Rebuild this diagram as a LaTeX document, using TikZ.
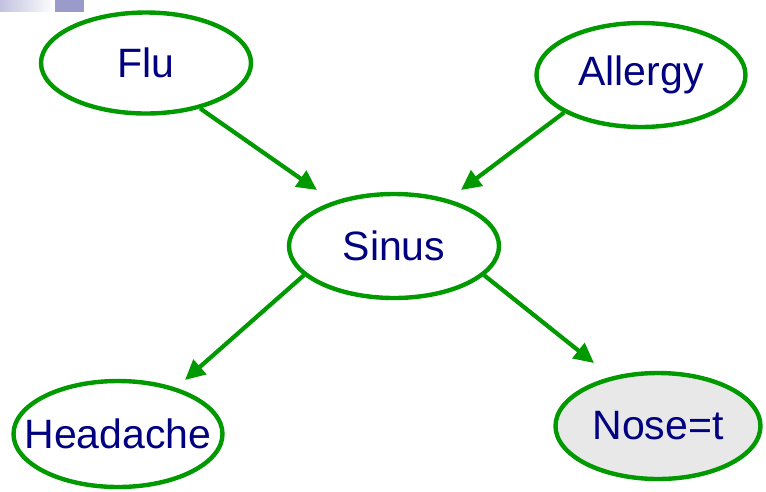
\documentclass[tikz,border=0pt]{standalone}
\usepackage{fontspec}
\setmainfont{Liberation Sans}
\usetikzlibrary{shapes.geometric,arrows.meta}
\definecolor{edgegreen}{HTML}{009900}
\definecolor{textnavy}{HTML}{000080}
\definecolor{nosegray}{HTML}{E8E8E8}
\definecolor{barblue}{HTML}{9B9BCB}
\definecolor{barlight}{HTML}{C2C2E0}
\newcommand{\zw}[1]{\makebox[0pt]{#1}}
\begin{document}
\begin{tikzpicture}[x=1pt,y=-1pt,
  var/.style={ellipse, draw=edgegreen, line width=4.4pt, text=textnavy,
    font=\fontsize{41}{41}\selectfont, inner sep=0pt},
  arr/.style={draw=edgegreen, line width=4.2pt,
    -{Triangle[length=20pt,width=19pt]}}]
\useasboundingbox (0,0) rectangle (766,491);
\fill[white] (0,0) rectangle (766,491);
\shade[left color=barlight, right color=white] (0,0) rectangle (55,11);
\fill[barblue] (55,0) rectangle (84,12);
\node[var, minimum width=210pt, minimum height=101pt] (flu) at (146,63) {\zw{Flu}};
\node[var, minimum width=209pt, minimum height=104pt] (allergy) at (641,75) {\zw{Allergy}};
\node[var, minimum width=210pt, minimum height=104pt] (sinus) at (394,246) {\zw{Sinus}};
\node[var, minimum width=209pt, minimum height=106pt] (headache) at (118,434) {\zw{Headache}};
\node[var, fill=nosegray, minimum width=205pt, minimum height=106pt] (nose) at (658,426) {\zw{Nose=t}};
\coordinate (t1) at (317,190);
\coordinate (t2) at (461,190);
\coordinate (t3) at (185,380);
\coordinate (t4) at (594,363);
\draw[arr] (flu.-40) -- (t1);
\draw[arr] (allergy.206) -- (t2);
\draw[arr] (sinus.198) -- (t3);
\draw[arr] (sinus.342) -- (t4);
\end{tikzpicture}
\end{document}
